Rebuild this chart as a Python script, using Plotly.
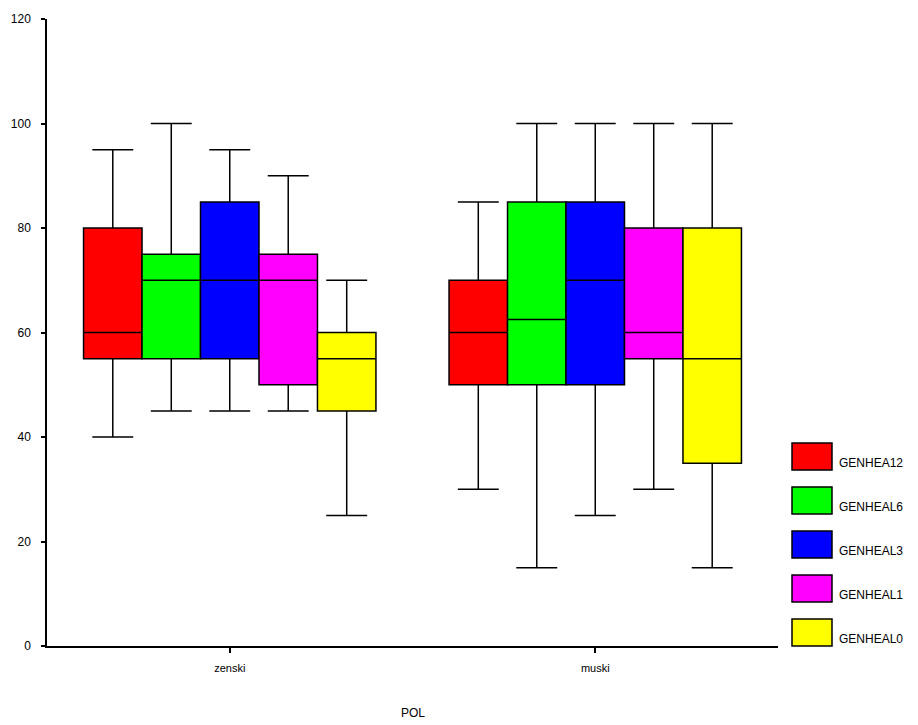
import plotly.graph_objects as go

categories = ["zenski", "muski"]
series = ["GENHEA12", "GENHEAL6", "GENHEAL3", "GENHEAL1", "GENHEAL0"]
colors = ["#ff0000", "#00ff00", "#0000ff", "#ff00ff", "#ffff00"]

# per series: values for [zenski, muski]
lower = {"GENHEA12": [40, 30], "GENHEAL6": [45, 15], "GENHEAL3": [45, 25], "GENHEAL1": [45, 30], "GENHEAL0": [25, 15]}
q1 = {"GENHEA12": [55, 50], "GENHEAL6": [55, 50], "GENHEAL3": [55, 50], "GENHEAL1": [50, 55], "GENHEAL0": [45, 35]}
median = {"GENHEA12": [60, 60], "GENHEAL6": [70, 62.5], "GENHEAL3": [70, 70], "GENHEAL1": [70, 60], "GENHEAL0": [55, 55]}
q3 = {"GENHEA12": [80, 70], "GENHEAL6": [75, 85], "GENHEAL3": [85, 85], "GENHEAL1": [75, 80], "GENHEAL0": [60, 80]}
upper = {"GENHEA12": [95, 85], "GENHEAL6": [100, 100], "GENHEAL3": [95, 100], "GENHEAL1": [90, 100], "GENHEAL0": [70, 100]}

y_ticks = [0, 20, 40, 60, 80, 100, 120]
x_title = "POL"

W, H = 918, 725
L, R, T, B = 47, 778, 19, 646  # plot area in pixels

fig = go.Figure()
for s, c in zip(series, colors):
    fig.add_trace(go.Box(
        name=s, x=categories,
        q1=q1[s], median=median[s], q3=q3[s],
        lowerfence=lower[s], upperfence=upper[s],
        fillcolor=c, line=dict(color="black", width=1.5),
        whiskerwidth=0.7, boxpoints=False, showlegend=False,
        hoverinfo="skip",
    ))

def px_x(x):
    return (x - L) / (R - L)

def px_y(y):
    return (B - y) / (B - T)

shapes = []
annotations = []
for i, (s, c) in enumerate(zip(series, colors)):
    top = 443 + 44 * i
    bot = top + 27
    shapes.append(dict(type="rect", xref="paper", yref="paper",
                       x0=px_x(792), x1=px_x(832), y0=px_y(bot), y1=px_y(top),
                       fillcolor=c, line=dict(color="black", width=1.5)))
    annotations.append(dict(xref="paper", yref="paper", x=px_x(837), y=px_y(bot - 7),
                            text=s, showarrow=False, xanchor="left", yanchor="middle",
                            font=dict(size=12, color="black")))

annotations.append(dict(xref="paper", yref="paper", x=px_x(413), y=px_y(713),
                        text=x_title, showarrow=False, xanchor="center", yanchor="middle",
                        font=dict(size=12, color="black")))

fig.update_layout(
    width=W, height=H,
    margin=dict(l=L, r=W - R, t=T, b=H - B, pad=0),
    paper_bgcolor="white", plot_bgcolor="white",
    boxmode="group", boxgap=0.2, boxgroupgap=0,
    font=dict(family="Liberation Sans, Arial, sans-serif", size=12, color="black"),
    shapes=shapes, annotations=annotations,
    showlegend=False,
)
fig.update_xaxes(type="category", categoryorder="array", categoryarray=categories,
                 range=[-0.5, 1.5], showline=True, linecolor="black", linewidth=1.5,
                 ticks="outside", ticklen=5, tickcolor="black", tickwidth=1.5,
                 ticklabelstandoff=6,
                 showgrid=False, zeroline=False, tickfont=dict(size=11))
fig.update_yaxes(range=[0, 120], tickvals=y_ticks, showline=True, linecolor="black", linewidth=1.5,
                 ticks="outside", ticklen=4, tickcolor="black", tickwidth=1.5,
                 ticklabelstandoff=8,
                 showgrid=False, zeroline=False, tickfont=dict(size=12))

fig.write_html("out.html", config={"displayModeBar": False},
               post_script="document.body.style.margin='0';document.body.style.padding='0';")
